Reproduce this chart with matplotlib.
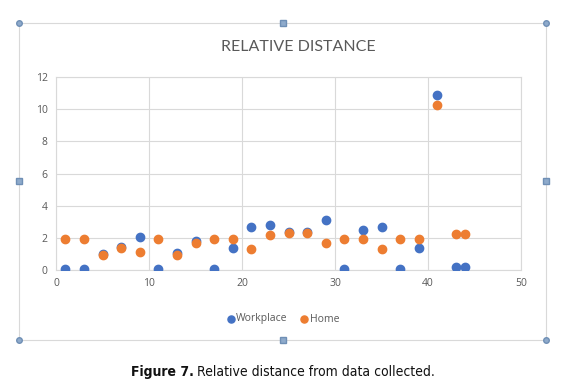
import matplotlib
matplotlib.use("Agg")
import matplotlib.pyplot as plt
from matplotlib import font_manager
from matplotlib.patches import Rectangle

# data
x_vals = [1, 3, 5, 7, 9, 11, 13, 15, 17, 19, 21, 23, 25, 27, 29, 31, 33, 35, 37, 39, 41, 43, 44]
workplace = [0.05, 0.05, 1.0, 1.4, 2.05, 0.05, 1.05, 1.8, 0.05, 1.35, 2.65, 2.8, 2.35,
             2.35, 3.1, 0.05, 2.5, 2.65, 0.05, 1.35, 10.9, 0.2, 0.2]
home = [1.95, 1.95, 0.95, 1.35, 1.1, 1.95, 0.95, 1.7, 1.95, 1.95, 1.3, 2.2, 2.3,
        2.3, 1.7, 1.95, 1.95, 1.3, 1.95, 1.95, 10.25, 2.25, 2.25]
xticks = [0, 10, 20, 30, 40, 50]
yticks = [0, 2, 4, 6, 8, 10, 12]

# narrow font files for the caption (regular and bold)
narrow_reg = None
narrow_bold = None
for f in font_manager.fontManager.ttflist:
    if not ("Narrow" in f.name or "Condensed" in f.name or f.stretch in ("condensed", "semi-condensed")):
        continue
    if f.style != "normal":
        continue
    w = f.weight if isinstance(f.weight, int) else (700 if f.weight == "bold" else 400)
    if w >= 600 and narrow_bold is None:
        narrow_bold = f.fname
    if w < 600 and narrow_reg is None:
        narrow_reg = f.fname

W, H = 561, 386
fig = plt.figure(figsize=(W / 100, H / 100), dpi=100)
ax = fig.add_axes([56 / W, 1 - 270 / H, (521 - 56) / W, (270 - 77) / H])

ax.scatter(x_vals, workplace, s=36, color="#4472C4", label="Workplace", zorder=3)
ax.scatter(x_vals, home, s=36, color="#ED7D31", label="Home", zorder=3)

ax.set_xlim(0, 50)
ax.set_ylim(0, 12)
ax.set_xticks(xticks)
ax.set_yticks(yticks)
ax.grid(color="#d9d9d9", linewidth=0.8)
ax.set_axisbelow(True)
for s in ax.spines.values():
    s.set_color("#d9d9d9")
    s.set_linewidth(0.8)
ax.tick_params(length=0, labelsize=7.5, labelcolor="#595959", pad=6)
for lab in ax.get_xticklabels() + ax.get_yticklabels():
    lab.set_family("Open Sans")

fig.text(298 / W, 1 - 47 / H, "RELATIVE DISTANCE", ha="center", va="center",
         fontsize=11.5, color="#595959", family="Lato")

leg = fig.legend(loc="center", bbox_to_anchor=(283 / W, 1 - 319 / H), ncol=2,
                 frameon=False, handletextpad=0.1, columnspacing=1.2,
                 handlelength=0.8, markerscale=0.85,
                 prop={"family": "Open Sans", "size": 7.5})
for t in leg.get_texts():
    t.set_color("#595959")

# chart frame with selection handles
frame_col = "#d9d9d9"
fig.add_artist(Rectangle((19 / W, 1 - 340 / H), (546 - 19) / W, (340 - 23) / H,
                         transform=fig.transFigure, fill=False, edgecolor=frame_col,
                         linewidth=0.8))
hx = [19, 546, 19, 546]
hy = [23, 23, 340, 340]
for px, py in zip(hx, hy):
    fig.add_artist(plt.Line2D([px / W], [1 - py / H], marker="o", markersize=4,
                              markerfacecolor="#8eaacb", markeredgecolor="#6f8fb5",
                              transform=fig.transFigure))
sx = [283, 283, 19, 546]
sy = [23, 340, 181, 181]
for px, py in zip(sx, sy):
    fig.add_artist(plt.Line2D([px / W], [1 - py / H], marker="s", markersize=4,
                              markerfacecolor="#8eaacb", markeredgecolor="#6f8fb5",
                              transform=fig.transFigure))

if narrow_reg is not None:
    cap_kw = {"fontproperties": font_manager.FontProperties(fname=narrow_reg, size=10)}
else:
    cap_kw = {"fontsize": 9, "family": "DejaVu Sans"}
if narrow_bold is not None:
    cap_bold = {"fontproperties": font_manager.FontProperties(fname=narrow_bold, size=10)}
else:
    cap_bold = {"fontsize": 9, "family": "DejaVu Sans", "weight": "bold"}

t1 = fig.text(131 / W, 1 - 372 / H, "Figure 7.", ha="left", va="center",
              color="#111111", **cap_bold)
fig.canvas.draw()
bb = t1.get_window_extent()
fig.text(bb.x1 / W + 3 / W, 1 - 372 / H, "Relative distance from data collected.",
         ha="left", va="center", color="#111111", **cap_kw)

fig.savefig("out.png", dpi=100)
